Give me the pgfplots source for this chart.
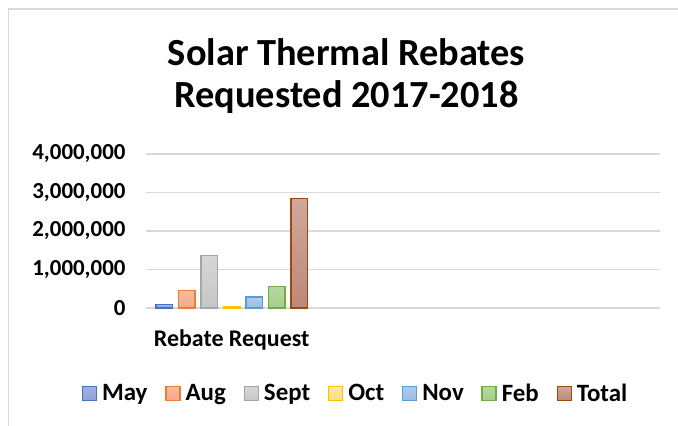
\documentclass[border=0pt]{standalone}
\usepackage{fontspec}
\setmainfont{Carlito}
\usepackage{pgfplots}
\pgfplotsset{compat=1.18}
\definecolor{gridc}{HTML}{D9D9D9}
\definecolor{mayB}{HTML}{4472C4}\definecolor{mayT}{HTML}{A0B2E0}\definecolor{mayBo}{HTML}{8EA2D8}
\definecolor{augB}{HTML}{ED7D31}\definecolor{augT}{HTML}{F7BBA0}\definecolor{augBo}{HTML}{F2A886}
\definecolor{sepB}{HTML}{A5A5A5}\definecolor{sepT}{HTML}{D6D6D6}\definecolor{sepBo}{HTML}{C6C6C6}
\definecolor{octB}{HTML}{FFC000}\definecolor{octT}{HTML}{FFE7A6}\definecolor{octBo}{HTML}{FFDB80}
\definecolor{novB}{HTML}{5B9BD5}\definecolor{novT}{HTML}{B0CDEC}\definecolor{novBo}{HTML}{98BDE4}
\definecolor{febB}{HTML}{70AD47}\definecolor{febT}{HTML}{B7D8A2}\definecolor{febBo}{HTML}{A2CD88}
\definecolor{totB}{HTML}{9E480E}\definecolor{totT}{HTML}{CFA89C}\definecolor{totBo}{HTML}{BE8877}
\begin{document}
\begin{tikzpicture}
\useasboundingbox (0bp,0bp) rectangle (678bp,426bp);
\draw[gridc, line width=1.5bp] (8.5bp,0bp) -- (8.5bp,417bp) -- (678bp,417bp);
\node[align=center, font=\fontsize{38.5}{43}\selectfont\bfseries] at (346.5bp,350bp) {Solar Thermal Rebates\\Requested 2017-2018};
\begin{axis}[
  at={(146bp,118bp)}, anchor=south west,
  scale only axis, width=514bp, height=154bp,
  xmin=-0.5, xmax=2.5, ymin=0, ymax=4000000,
  xtick={0}, xticklabels={Rebate Request},
  ytick={0,1000000,2000000,3000000,4000000},
  scaled y ticks=false,
  /pgf/number format/.cd, fixed, 1000 sep={,}, precision=0, assume math mode=true,
  /pgfplots/.cd,
  major tick length=0pt,
  axis line style={draw=none},
  ymajorgrids, grid style={gridc, line width=1.2bp},
  yticklabel style={font=\fontsize{23}{26}\selectfont\bfseries, xshift=-17bp},
  xticklabel style={font=\fontsize{24}{26}\selectfont\bfseries, yshift=-18bp},
  clip=false,
  bar width=0.097, 
  legend columns=7,
  legend style={draw=none, fill=none, at={(0.4076,-0.555)}, anchor=center,
    font=\fontsize{25}{28}\selectfont\bfseries,
    /tikz/every odd column/.append style={column sep=3bp},
    /tikz/every even column/.append style={column sep=15.7bp},
    inner sep=0pt},
  legend image code/.code={\draw[#1, line width=1.4bp] (0bp,-7bp) rectangle (14bp,7bp);},
]
\addplot[ybar, bar shift=0pt, draw=mayB, top color=mayT, bottom color=mayBo, line width=1.5bp] coordinates {(-0.3945,85000)};
\addlegendentry{May}
\addplot[ybar, bar shift=0pt, draw=augB, top color=augT, bottom color=augBo, line width=1.5bp] coordinates {(-0.263,450000)};
\addlegendentry{Aug}
\addplot[ybar, bar shift=0pt, draw=sepB, top color=sepT, bottom color=sepBo, line width=1.5bp] coordinates {(-0.1315,1360000)};
\addlegendentry{Sept}
\addplot[ybar, bar shift=0pt, draw=octB, top color=octT, bottom color=octBo, line width=1.5bp] coordinates {(0,45000)};
\addlegendentry{Oct}
\addplot[ybar, bar shift=0pt, draw=novB, top color=novT, bottom color=novBo, line width=1.5bp] coordinates {(0.1315,290000)};
\addlegendentry{Nov}
\addplot[ybar, bar shift=0pt, draw=febB, top color=febT, bottom color=febBo, line width=1.5bp] coordinates {(0.263,560000)};
\addlegendentry{Feb}
\addplot[ybar, bar shift=0pt, draw=totB, top color=totT, bottom color=totBo, line width=1.5bp] coordinates {(0.3945,2840000)};
\addlegendentry{Total}
\end{axis}
\end{tikzpicture}
\end{document}
